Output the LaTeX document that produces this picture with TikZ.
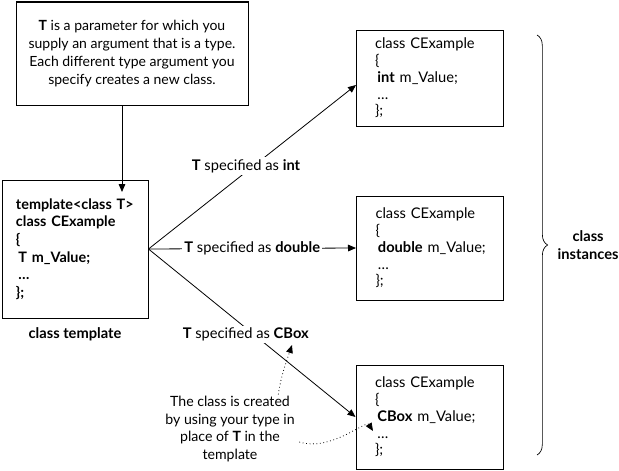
\documentclass[tikz,border=0pt]{standalone}
\usepackage{fontspec}
\setmainfont{Lato}
\usetikzlibrary{arrows.meta,positioning,decorations.pathreplacing}

\tikzset{
  every picture/.style={font=\fontsize{11}{13.5}\selectfont, >={Triangle[length=6pt,width=5pt]}},
  codebox/.style={draw, line width=0.75pt, align=left, inner xsep=14.25pt, text width=81.75pt,
    font=\fontsize{11}{12.6}\selectfont},
  notebox/.style={draw, line width=0.75pt, align=center, minimum width=174pt, minimum height=77.25pt,
    font=\fontsize{10.5}{13.5}\selectfont},
  speclabel/.style={fill=white, inner sep=1.5pt},
  link/.style={->, line width=0.6pt},
  hint/.style={->, dotted, line width=0.6pt}
}

\begin{document}
\begin{tikzpicture}[x=0.75pt, y=-0.75pt]
    \useasboundingbox (0,0) rectangle (619,471);

    % parameter note and template
    \node[notebox] (param) at (132,53.5) {\textbf{T} is a parameter for which you\\supply an argument that is a type.\\Each different type argument you\\specify creates a new class.};
    \node[codebox, minimum height=103.5pt, text width=88.5pt, inner xsep=10.5pt, font=\fontsize{10.8}{13.2}\selectfont] (tplt) at (75,249)
        {\mbox{\textbf{template<class T>}}\\\mbox{\textbf{class CExample}}\\\textbf{\{}\\\mbox{\textbf{\,T m\_Value;}}\\\textbf{\,\dots}\\\textbf{\};}};
    \node[below=3pt of tplt] (tpltlabel) {\textbf{class template}};
    \coordinate (tin) at (122,192);
    \draw[link] (param.south -| tin) -- (tin);

    % class instances
    \node[codebox, minimum height=72pt] (inst1) at (429.5,78)
        {\mbox{class CExample}\\\{\\\mbox{\,\textbf{int} m\_Value;}\\\,\dots\\\};};
    \node[codebox, minimum height=78pt] (inst2) at (430,248)
        {\mbox{class CExample}\\\{\\\mbox{\,\textbf{double} m\_Value;}\\\,\dots\\\};};
    \node[codebox, minimum height=78pt] (inst3) at (429.5,417)
        {\mbox{class CExample}\\\{\\\mbox{\,\textbf{CBox} m\_Value;}\\\,\dots\\\};};

    \coordinate (intin) at (356,85);
    \draw[link] (tplt.east) -- node[speclabel, pos=0.47, yshift=4.5pt] (intlabel) {\textbf{T} specified as \textbf{int}} (intin);
    \draw[link] (tplt.east) -- node[speclabel, pos=0.5] (dbllabel) {\textbf{T} specified as \textbf{double}} (inst2.west);
    \draw[link] (tplt.east) -- node[speclabel, pos=0.47, yshift=-5pt] (cboxlabel) {\textbf{T} specified as \textbf{CBox}} (inst3.west);

    % explanation
    \node[align=center, font=\fontsize{10.6}{13.2}\selectfont] (expl) at (230,429) {The class is created\\by using your type in\\place of \textbf{T} in the\\template};
    \coordinate (hintup) at (292,345);
    \coordinate (hintbox) at (373,431);
    \draw[hint] (expl.north east) ++(-21,3) coordinate (hintstart) .. controls (281,375) and (287,360) .. (hintup);
    \draw[hint] (expl.east) ++(0,13) coordinate (hintstart2) .. controls (330,452) and (366,420) .. (hintbox);

    % brace
    \draw[line width=0.5pt, decorate, decoration={brace, amplitude=8pt}] (537,35) -- (537,455) coordinate[midway] (bracetip);
    \node[align=center, right=12pt of bracetip] (instlabel) {\textbf{class}\\\textbf{instances}};
\end{tikzpicture}
\end{document}
